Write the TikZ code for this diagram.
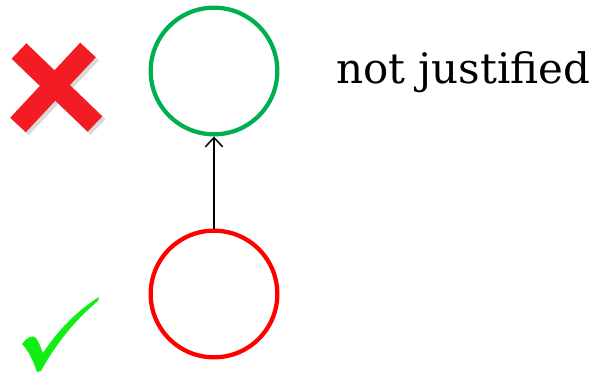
\documentclass[tikz,border=0pt]{standalone}
\usepackage{fontspec}
\usetikzlibrary{arrows.meta}
\newfontfamily\labelfont{DejaVu Serif}
\definecolor{ogreen}{HTML}{00B050}
\definecolor{ored}{HTML}{FF0000}
\definecolor{cgreen}{HTML}{11EE11}
\definecolor{xred}{HTML}{F41C24}
\begin{document}
\begin{tikzpicture}[x=0.75pt,y=-0.75pt,
  state/.style={circle,draw,line width=3.2pt,minimum size=95pt,inner sep=0pt},
  arr/.style={-{Straight Barb[length=7pt,width=13pt]},line width=1.1pt},
  lab/.style={font=\labelfont\fontsize{31.5}{34}\selectfont,anchor=base west,inner sep=0pt},
  crossarm/.style={line width=16pt,line cap=butt}]
\useasboundingbox (0,0) rectangle (598,374);
\node[state,draw=ogreen] (g) at (214,71) {};
\node[state,draw=ored] (r) at (214,294) {};
\draw[arr] (r) -- (g);
\node[lab] (t) at (336,84) {not justified};
% red cross with shadow
\begin{scope}[shift={(3,3)}]
\draw[crossarm,gray!30] (19,51) -- (95,124);
\draw[crossarm,gray!30] (88,50) -- (18,125);
\end{scope}
\draw[crossarm,xred] (19,51) -- (95,124);
\draw[crossarm,xred] (88,50) -- (18,125);
% green check
\fill[cgreen] (22,344) .. controls (26,338) and (33,334) .. (36,338)
  .. controls (39,342) and (41,348) .. (43,353)
  .. controls (58,330) and (78,310) .. (99,297)
  -- (98,301)
  .. controls (75,320) and (55,345) .. (41,371)
  -- (37,372)
  .. controls (33,360) and (28,350) .. (22,344) -- cycle;
\end{tikzpicture}
\end{document}
